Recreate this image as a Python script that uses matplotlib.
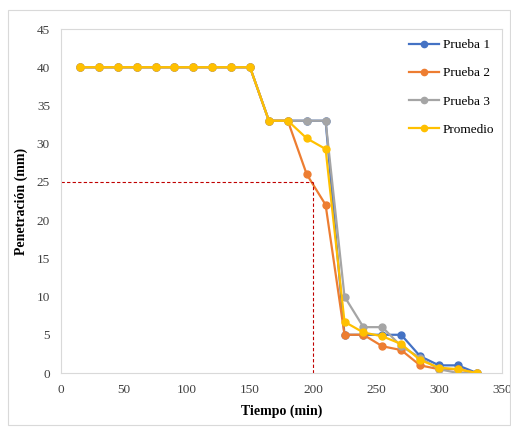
import matplotlib.pyplot as plt
from matplotlib.patches import Rectangle

tiempo = [15, 30, 45, 60, 75, 90, 105, 120, 135, 150, 165,
          180, 195, 210, 225, 240, 255, 270, 285, 300, 315, 330]
prueba1 = [40, 40, 40, 40, 40, 40, 40, 40, 40, 40, 33,
           33, 33, 33, 5, 5, 5, 5, 2.2, 1, 1, 0]
prueba2 = [40, 40, 40, 40, 40, 40, 40, 40, 40, 40, 33,
           33, 26, 22, 5, 5, 3.5, 3, 1, 0.5, 0.5, 0]
prueba3 = [40, 40, 40, 40, 40, 40, 40, 40, 40, 40, 33,
           33, 33, 33, 10, 6, 6, 3.5, 2, 0.5, 0, 0]
promedio = [40, 40, 40, 40, 40, 40, 40, 40, 40, 40, 33,
            33, 30.7, 29.3, 6.7, 5.3, 4.8, 3.8, 1.7, 0.7, 0.5, 0]

series = [('Prueba 1', prueba1, '#4472C4'),
          ('Prueba 2', prueba2, '#ED7D31'),
          ('Prueba 3', prueba3, '#A5A5A5'),
          ('Promedio', promedio, '#FFC000')]

plt.rcParams['font.family'] = 'Liberation Serif'

fig = plt.figure(figsize=(5.11, 4.28), dpi=100)
ax = fig.add_axes([61 / 511, 55 / 428, 441 / 511, 344 / 428])

# outer chart border (Excel style)
fig.patches.append(Rectangle((8 / 511, 3 / 428), 502 / 511, 415 / 428,
                             transform=fig.transFigure, fill=False,
                             edgecolor='#D9D9D9', linewidth=0.8))

for label, vals, color in series:
    ax.plot(tiempo, vals, color=color, marker='o', markersize=5,
            linewidth=1.6, label=label)

# reference lines at 25 mm
ax.plot([0, 200], [25, 25], color='#C00000', linestyle='--', linewidth=0.8, dashes=(3, 2))
ax.plot([200, 200], [0, 25], color='#C00000', linestyle='--', linewidth=0.8, dashes=(3, 2))

ax.set_xlim(0, 350)
ax.set_ylim(0, 45)
ax.set_xticks(range(0, 351, 50))
ax.set_yticks(range(0, 46, 5))
ax.tick_params(length=0, labelsize=9.5, pad=8, colors='#404040')
for s in ax.spines.values():
    s.set_color('#D9D9D9')
    s.set_linewidth(0.8)

ax.set_xlabel('Tiempo (min)', fontsize=10, fontweight='bold', labelpad=6)
ax.set_ylabel('Penetración (mm)', fontsize=10, fontweight='bold', labelpad=6)

ax.legend(loc='upper right', bbox_to_anchor=(1.01, 1.005), frameon=False,
          fontsize=9.5, labelspacing=1.2, handlelength=2.3, handletextpad=0.3,
          markerscale=0.9)

fig.savefig('out.png', dpi=100)
